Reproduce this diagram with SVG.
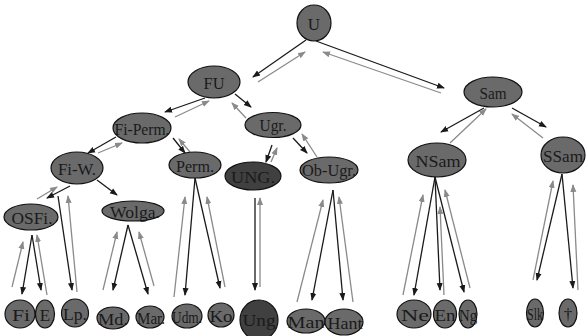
<svg xmlns="http://www.w3.org/2000/svg" width="587" height="336" viewBox="0 0 587 336">
<style>
.n{fill:#6a6a6a;stroke:#111;stroke-width:1.2}
.d{fill:#404040;stroke:#111;stroke-width:1.2}
.t{font-family:"Liberation Serif","Times New Roman",serif;font-size:17px;fill:#1a1a1a;text-anchor:middle;dominant-baseline:central}
.k{stroke:#1a1a1a;stroke-width:1.3;fill:none;marker-end:url(#ak)}
.g{stroke:#8a8a8a;stroke-width:1.3;fill:none;marker-end:url(#ag)}
</style>
<defs>
<marker id="ak" markerUnits="userSpaceOnUse" markerWidth="8" markerHeight="8" viewBox="0 0 8 8" refX="7" refY="4" orient="auto"><path d="M0,1 L8,4 L0,7 Z" fill="#1a1a1a"/></marker>
<marker id="ag" markerUnits="userSpaceOnUse" markerWidth="8" markerHeight="8" viewBox="0 0 8 8" refX="7" refY="4" orient="auto"><path d="M0,1 L8,4 L0,7 Z" fill="#8a8a8a"/></marker>
</defs>
<rect width="587" height="336" fill="#fff"/>
<g id="connectors">
<line class="k" x1="306" y1="40" x2="253" y2="77"/>
<line class="g" x1="258" y1="82" x2="305" y2="52"/>
<line class="k" x1="316" y1="41" x2="444" y2="88"/>
<line class="g" x1="441" y1="93" x2="323" y2="52"/>
<line class="k" x1="205" y1="98" x2="165" y2="112"/>
<line class="g" x1="175" y1="117" x2="209" y2="101"/>
<line class="k" x1="235" y1="94" x2="251" y2="107"/>
<line class="g" x1="246" y1="118" x2="232" y2="103"/>
<line class="k" x1="484" y1="108" x2="441" y2="132"/>
<line class="g" x1="450" y1="143" x2="486" y2="109"/>
<line class="k" x1="512" y1="108" x2="546" y2="127"/>
<line class="g" x1="543" y1="138" x2="512" y2="114"/>
<line class="k" x1="116" y1="137" x2="88" y2="153"/>
<line class="g" x1="98" y1="153" x2="122" y2="143"/>
<line class="k" x1="173" y1="138" x2="185" y2="153"/>
<line class="g" x1="190" y1="152" x2="179" y2="139"/>
<line class="k" x1="70" y1="186" x2="47" y2="198"/>
<line class="g" x1="37" y1="199" x2="57" y2="187"/>
<line class="k" x1="97" y1="180" x2="117" y2="195"/>
<line class="k" x1="58" y1="196" x2="72" y2="290"/>
<line class="g" x1="77" y1="292" x2="68" y2="196"/>
<line class="k" x1="272" y1="145" x2="266" y2="162"/>
<line class="g" x1="271" y1="162" x2="277" y2="148"/>
<line class="k" x1="293" y1="138" x2="307" y2="153"/>
<line class="g" x1="317" y1="157" x2="302" y2="134"/>
<line class="k" x1="32" y1="235" x2="22" y2="294"/>
<line class="k" x1="32" y1="235" x2="41" y2="290"/>
<line class="g" x1="12" y1="287" x2="23" y2="242"/>
<line class="g" x1="47" y1="295" x2="37" y2="235"/>
<line class="k" x1="128" y1="225" x2="113" y2="290"/>
<line class="k" x1="128" y1="225" x2="148" y2="294"/>
<line class="g" x1="103" y1="290" x2="117" y2="232"/>
<line class="g" x1="154" y1="286" x2="139" y2="232"/>
<line class="k" x1="195" y1="178" x2="185" y2="295"/>
<line class="k" x1="195" y1="178" x2="220" y2="288"/>
<line class="g" x1="174" y1="297" x2="185" y2="197"/>
<line class="g" x1="225" y1="287" x2="207" y2="197"/>
<line class="k" x1="255" y1="198" x2="255" y2="290"/>
<line class="g" x1="260" y1="287" x2="260" y2="198"/>
<line class="k" x1="333" y1="190" x2="312" y2="300"/>
<line class="k" x1="333" y1="190" x2="343" y2="300"/>
<line class="g" x1="297" y1="302" x2="323" y2="200"/>
<line class="g" x1="353" y1="302" x2="339" y2="197"/>
<line class="k" x1="435" y1="177" x2="414" y2="295"/>
<line class="k" x1="435" y1="177" x2="440" y2="290"/>
<line class="k" x1="435" y1="177" x2="464" y2="292"/>
<line class="g" x1="403" y1="295" x2="423" y2="195"/>
<line class="g" x1="444" y1="295" x2="440" y2="207"/>
<line class="g" x1="470" y1="288" x2="445" y2="190"/>
<line class="k" x1="562" y1="174" x2="537" y2="280"/>
<line class="k" x1="562" y1="174" x2="573" y2="288"/>
<line class="g" x1="533" y1="280" x2="553" y2="181"/>
<line class="g" x1="578" y1="290" x2="573" y2="185"/>
</g>
<g id="U"><ellipse class="n" cx="314" cy="23" rx="17" ry="18"/><text class="t" x="314" y="24" font-size="15">U</text></g>
<g id="FU"><ellipse class="n" cx="214" cy="82" rx="26" ry="16"/><text class="t" x="214" y="83" font-size="18" textLength="21" lengthAdjust="spacingAndGlyphs">FU</text></g>
<g id="Sam"><ellipse class="n" cx="493" cy="92" rx="29" ry="15"/><text class="t" x="493" y="93" textLength="27" lengthAdjust="spacingAndGlyphs">Sam</text></g>
<g id="FiPerm"><ellipse class="n" cx="142" cy="128" rx="29" ry="15"/><text class="t" x="142" y="129" font-size="18" textLength="55" lengthAdjust="spacingAndGlyphs">Fi-Perm.</text></g>
<g id="Ugr"><ellipse class="n" cx="273" cy="125" rx="28" ry="12.5"/><text class="t" x="273" y="125" textLength="27" lengthAdjust="spacingAndGlyphs">Ugr.</text></g>
<g id="FiW"><ellipse class="n" cx="77" cy="168" rx="26" ry="16"/><text class="t" x="77" y="169" font-size="18" textLength="38" lengthAdjust="spacingAndGlyphs">Fi-W.</text></g>
<g id="Perm"><ellipse class="n" cx="195" cy="165" rx="26" ry="13"/><text class="t" x="195" y="166" textLength="38" lengthAdjust="spacingAndGlyphs">Perm.</text></g>
<g id="UNG"><ellipse class="d" cx="253" cy="176" rx="28" ry="14"/><text class="t" x="253" y="177" font-size="18" textLength="44" lengthAdjust="spacingAndGlyphs">UNG.</text></g>
<g id="ObUgr"><ellipse class="n" cx="329" cy="170" rx="29" ry="13"/><text class="t" x="329" y="170" textLength="54" lengthAdjust="spacingAndGlyphs">Ob-Ugr.</text></g>
<g id="NSam"><ellipse class="n" cx="437" cy="160" rx="29" ry="17"/><text class="t" x="438" y="161" textLength="45" lengthAdjust="spacingAndGlyphs">NSam</text></g>
<g id="SSam"><ellipse class="n" cx="563" cy="155" rx="22" ry="18"/><text class="t" x="563" y="156" textLength="40" lengthAdjust="spacingAndGlyphs">SSam</text></g>
<g id="OSFi"><ellipse class="n" cx="31" cy="217" rx="27" ry="13"/><text class="t" x="32" y="218" font-size="18" textLength="41" lengthAdjust="spacingAndGlyphs">OSFi.</text></g>
<g id="Wolga"><ellipse class="n" cx="133" cy="211" rx="31" ry="10"/><text class="t" x="135" y="212" textLength="50" lengthAdjust="spacingAndGlyphs">Wolga.</text></g>
<g id="Fi"><ellipse class="n" cx="20" cy="314" rx="15" ry="14"/><text class="t" x="21" y="315" font-size="19" textLength="18" lengthAdjust="spacingAndGlyphs">Fi</text></g>
<g id="E"><ellipse class="n" cx="45" cy="314" rx="9.5" ry="14"/><text class="t" x="45" y="315">E</text></g>
<g id="Lp"><ellipse class="n" cx="75" cy="313" rx="13.5" ry="14"/><text class="t" x="75" y="314" font-size="18" textLength="24" lengthAdjust="spacingAndGlyphs">Lp.</text></g>
<g id="Md"><ellipse class="n" cx="113" cy="318" rx="16" ry="11"/><text class="t" x="113" y="319" font-size="18" textLength="30" lengthAdjust="spacingAndGlyphs">Md.</text></g>
<g id="Mar"><ellipse class="n" cx="150" cy="317" rx="14" ry="11"/><text class="t" x="151" y="318" font-size="18" textLength="28" lengthAdjust="spacingAndGlyphs">Mar.</text></g>
<g id="Udm"><ellipse class="n" cx="187" cy="316" rx="15" ry="12"/><text class="t" x="187" y="317" textLength="30" lengthAdjust="spacingAndGlyphs">Udm.</text></g>
<g id="Ko"><ellipse class="n" cx="221" cy="315" rx="13" ry="12"/><text class="t" x="221" y="316" font-size="18" textLength="23" lengthAdjust="spacingAndGlyphs">Ko</text></g>
<g id="Ung"><ellipse class="d" cx="259" cy="320" rx="19" ry="20"/><text class="t" x="259" y="320" font-size="19" textLength="33" lengthAdjust="spacingAndGlyphs">Ung</text></g>
<g id="Man"><ellipse class="n" cx="306" cy="321" rx="19" ry="12"/><text class="t" x="306" y="322" font-size="18" textLength="37" lengthAdjust="spacingAndGlyphs">Man</text></g>
<g id="Hant"><ellipse class="n" cx="344" cy="322" rx="19" ry="13"/><text class="t" x="345" y="323" font-size="18" textLength="35" lengthAdjust="spacingAndGlyphs">Hant</text></g>
<g id="Ne"><ellipse class="n" cx="414" cy="314" rx="17" ry="14"/><text class="t" x="415" y="315" font-size="19" textLength="28" lengthAdjust="spacingAndGlyphs">Ne</text></g>
<g id="En"><ellipse class="n" cx="445" cy="314" rx="11.5" ry="14"/><text class="t" x="445" y="315" font-size="19" textLength="21" lengthAdjust="spacingAndGlyphs">En</text></g>
<g id="Ng"><ellipse class="n" cx="468" cy="314" rx="9" ry="14"/><text class="t" x="468" y="315" font-size="19" textLength="18" lengthAdjust="spacingAndGlyphs">Ng</text></g>
<g id="Slk"><ellipse class="n" cx="535" cy="313" rx="8.5" ry="14"/><text class="t" x="535" y="314" textLength="16" lengthAdjust="spacingAndGlyphs">Slk</text></g>
<g id="Dagger"><ellipse class="n" cx="568" cy="313" rx="9" ry="14"/><text class="t" x="568" y="314">†</text></g>
</svg>
